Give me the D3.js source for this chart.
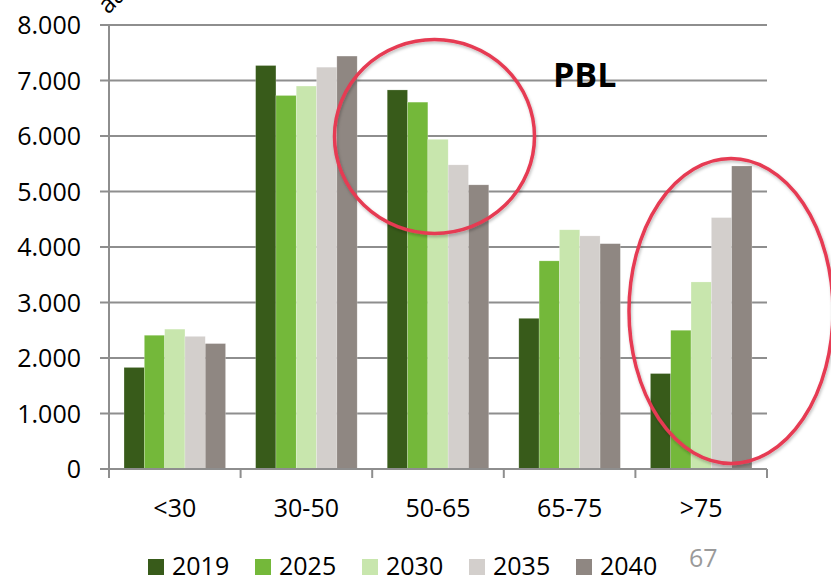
<!DOCTYPE html>
<html>
<head>
<meta charset="utf-8">
<script src="https://cdn.jsdelivr.net/npm/d3@7"></script>
<style>
  html, body { margin: 0; padding: 0; background: #fff; }
  svg { display: block; font-family: "Open Sans", "Noto Sans", sans-serif; }
</style>
</head>
<body>
<svg id="chart" width="831" height="579"></svg>
<script>
// Age groups on the x axis
const categories = ["<30", "30-50", "50-65", "65-75", ">75"];
// Scenario years (one bar per year in each group)
const years = ["2019", "2025", "2030", "2035", "2040"];
// Counts per year, in category order
const values2019 = [1830, 7270, 6830, 2715, 1720];
const values2025 = [2410, 6730, 6610, 3750, 2500];
const values2030 = [2520, 6900, 5940, 4310, 3370];
const values2035 = [2390, 7240, 5480, 4200, 4530];
const values2040 = [2260, 7440, 5120, 4060, 5460];
const yTicks = [0, 1000, 2000, 3000, 4000, 5000, 6000, 7000, 8000];
const yTickLabels = ["0", "1.000", "2.000", "3.000", "4.000", "5.000", "6.000", "7.000", "8.000"];
const colors = ["#385b1a", "#74b83a", "#c8e6ad", "#d3cfcc", "#8f8782"];

const series = [values2019, values2025, values2030, values2035, values2040];

const svg = d3.select("#chart");
const plot = { left: 109, right: 767, top: 25, bottom: 469 };

const x = d3.scaleBand().domain(categories).range([plot.left, plot.right]).paddingInner(0).paddingOuter(0);
const xInner = d3.scaleBand().domain(years).range([0, x.bandwidth()]).paddingInner(0).paddingOuter(0.74);
const y = d3.scaleLinear().domain([0, 8000]).range([plot.bottom, plot.top]);

const gridColor = "#8e8e8e";

// horizontal gridlines with short tick stubs on the left
svg.append("g")
  .selectAll("line")
  .data(yTicks)
  .join("line")
  .attr("x1", plot.left - 9)
  .attr("x2", plot.right)
  .attr("y1", d => y(d))
  .attr("y2", d => y(d))
  .attr("stroke", gridColor)
  .attr("stroke-width", 2);

// y axis labels
svg.append("g")
  .selectAll("text")
  .data(yTicks)
  .join("text")
  .attr("x", 81)
  .attr("y", d => y(d))
  .attr("dy", "0.36em")
  .attr("text-anchor", "end")
  .attr("font-size", 25)
  .attr("fill", "#000")
  .text((d, i) => yTickLabels[i]);

// bars
const barData = [];
categories.forEach((c, ci) => {
  years.forEach((yr, yi) => {
    barData.push({ cat: c, year: yr, value: series[yi][ci], color: colors[yi] });
  });
});

svg.append("g")
  .selectAll("rect")
  .data(barData)
  .join("rect")
  .attr("x", d => x(d.cat) + xInner(d.year))
  .attr("y", d => y(d.value))
  .attr("width", xInner.bandwidth())
  .attr("height", d => y(0) - y(d.value))
  .attr("fill", d => d.color)
  .attr("stroke", "rgba(255,255,255,0.35)")
  .attr("stroke-width", 0.6);

// vertical axis line
svg.append("line")
  .attr("x1", plot.left).attr("x2", plot.left)
  .attr("y1", plot.top).attr("y2", plot.bottom)
  .attr("stroke", gridColor).attr("stroke-width", 2);

// x axis line and category boundary ticks
svg.append("line")
  .attr("x1", plot.left - 9).attr("x2", plot.right)
  .attr("y1", plot.bottom).attr("y2", plot.bottom)
  .attr("stroke", gridColor).attr("stroke-width", 2);

const boundaries = categories.map(c => x(c)).concat([x(categories[categories.length - 1]) + x.bandwidth()]);
svg.append("g")
  .selectAll("line")
  .data(boundaries)
  .join("line")
  .attr("x1", d => d).attr("x2", d => d)
  .attr("y1", plot.bottom).attr("y2", plot.bottom + 9)
  .attr("stroke", gridColor).attr("stroke-width", 2);

// category labels
svg.append("g")
  .selectAll("text")
  .data(categories)
  .join("text")
  .attr("x", d => x(d) + x.bandwidth() / 2)
  .attr("y", 517)
  .attr("text-anchor", "middle")
  .attr("font-size", 25)
  .attr("fill", "#000")
  .text(d => d);

// rotated axis title, mostly running off the top edge
svg.append("text")
  .attr("transform", "translate(108,15) rotate(-45)")
  .attr("font-size", 25)
  .attr("fill", "#000")
  .text("aantal");

// PBL label
svg.append("text")
  .attr("x", 553)
  .attr("y", 87)
  .attr("font-size", 34)
  .attr("font-weight", "bold")
  .attr("fill", "#000")
  .text("PBL");

// highlight ellipses
const defs = svg.append("defs");
const shadow = defs.append("filter").attr("id", "ringShadow").attr("x", "-20%").attr("y", "-20%").attr("width", "140%").attr("height", "140%");
shadow.append("feDropShadow").attr("dx", 1).attr("dy", 2).attr("stdDeviation", 1.5).attr("flood-color", "#000").attr("flood-opacity", 0.25);

const rings = [
  { cx: 434.5, cy: 136.5, rx: 100, ry: 97 },
  { cx: 731, cy: 311, rx: 102, ry: 152.5 }
];
svg.append("g")
  .selectAll("ellipse")
  .data(rings)
  .join("ellipse")
  .attr("cx", d => d.cx).attr("cy", d => d.cy)
  .attr("rx", d => d.rx).attr("ry", d => d.ry)
  .attr("fill", "none")
  .attr("stroke", "#e63a52")
  .attr("stroke-width", 3.5)
  .attr("filter", "url(#ringShadow)");

// legend
const legend = svg.append("g")
  .selectAll("g")
  .data(years)
  .join("g")
  .attr("transform", (d, i) => `translate(${148 + i * 107},559)`);
legend.append("rect")
  .attr("width", 16).attr("height", 16)
  .attr("fill", (d, i) => colors[i]);
legend.append("text")
  .attr("x", 24)
  .attr("y", 16)
  .attr("font-size", 25)
  .attr("fill", "#000")
  .text(d => d);

// page number
svg.append("text")
  .attr("x", 689)
  .attr("y", 567)
  .attr("font-size", 25)
  .attr("fill", "#9a9a9a")
  .text("67");
</script>
</body>
</html>
